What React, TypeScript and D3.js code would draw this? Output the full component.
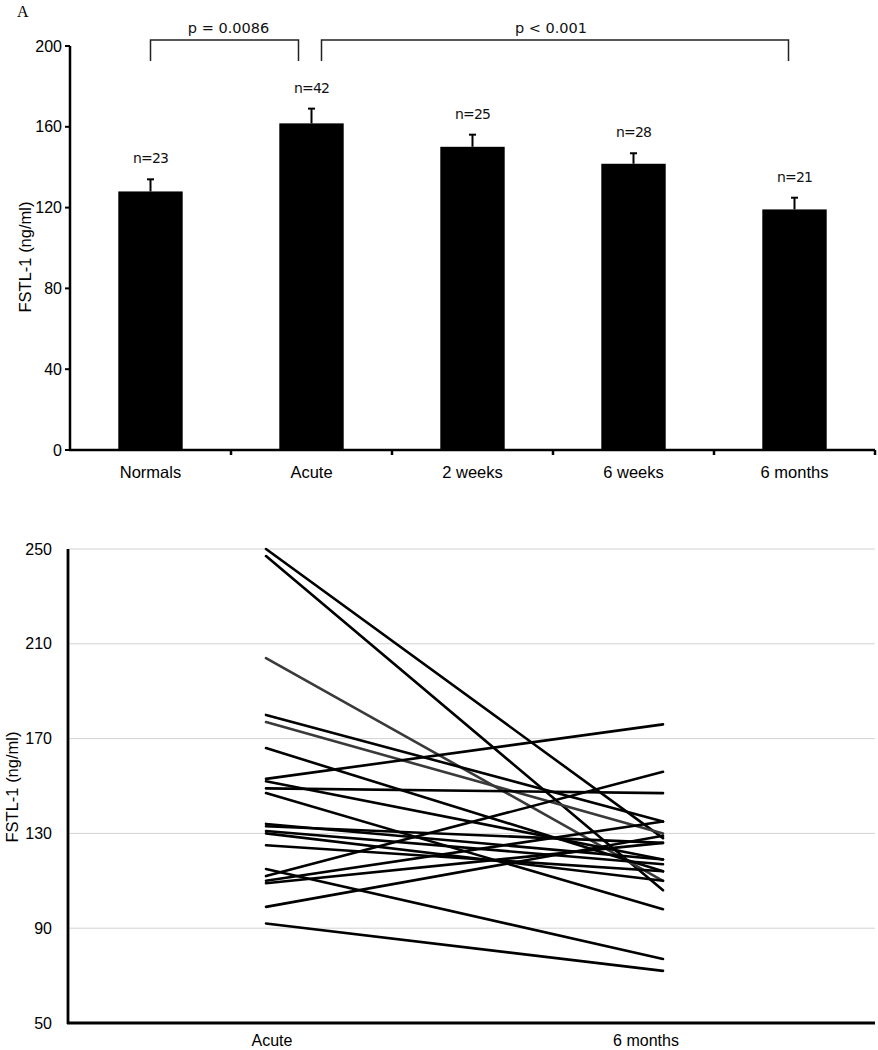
import React from "react";
import * as d3 from "d3";

// ---------- Panel A: bar chart data ----------
const categories = ["Normals", "Acute", "2 weeks", "6 weeks", "6 months"];
const means = [128, 161.7, 150.1, 141.7, 119.1];
const sems = [6, 7.3, 6, 5.2, 5.8];
const nLabels = ["n=23", "n=42", "n=25", "n=28", "n=21"];
const yTicksTop = [0, 40, 80, 120, 160, 200];
const comparisons = [
  { from: "Normals", to: "Acute", label: "p = 0.0086" },
  { from: "Acute", to: "6 months", label: "p < 0.001" },
];

// ---------- Panel B: paired lines data ----------
const pairedTimepoints = ["Acute", "6 months"];
const acuteValues = [250, 247, 204, 180, 177, 166, 153, 152, 149, 147, 134, 133, 131, 130, 125, 115, 112, 110, 109, 99, 92];
const sixMonthValues = [128, 106, 110, 135, 130, 114, 176, 119, 147, 98, 119, 126, 117, 110, 114, 77, 156, 135, 126, 129, 72];
const grayLines = [2, 4];
const yTicksBottom = [50, 90, 130, 170, 210, 250];

const ARIAL = "'Liberation Sans', Arial, sans-serif";
const DEJAVU = "'DejaVu Sans', Verdana, sans-serif";

export default function App() {
  // top chart scales
  const xTop = d3.scaleBand<string>().domain(categories).range([70, 875]).padding(0);
  const yTop = d3.scaleLinear().domain([0, 200]).range([450, 46]);
  const bw = xTop.bandwidth() * 0.4;
  const cx = (c: string) => (xTop(c) as number) + xTop.bandwidth() / 2;

  // bottom chart scales
  const xBot = d3.scalePoint<string>().domain(pairedTimepoints).range([266, 663]);
  const yBot = d3.scaleLinear().domain([50, 250]).range([1023, 549]);
  const labelShift = [6, -17];
  const line = d3
    .line<[string, number]>()
    .x((d) => xBot(d[0]) as number)
    .y((d) => yBot(d[1]));

  const bracketTop = 40;
  const bracketBottom = 61;

  return (
    <svg width={878} height={1050} style={{ position: "absolute", left: 0, top: 0, background: "#fff" }}>
      {/* Panel label */}
      <text x={17} y={17} fontFamily="'Liberation Serif', 'DejaVu Serif', serif" fontSize={16}>A</text>

      {/* Significance brackets */}
      {comparisons.map((c, i) => {
        const x1 = i === 0 ? cx(c.from) : cx(c.from) + 10;
        const x2 = i === 0 ? cx(c.to) - 13 : cx(c.to) - 6;
        return (
          <g key={c.label}>
            <path
              d={`M${x1},${bracketBottom}V${bracketTop}H${x2}V${bracketBottom}`}
              fill="none"
              stroke="#222"
              strokeWidth={1.5}
            />
            <text x={(x1 + x2) / 2 + (i === 0 ? 4 : -4)} y={33} textAnchor="middle" fontFamily={DEJAVU} fontSize={14.5} fill="#111">
              {c.label}
            </text>
          </g>
        );
      })}

      {/* Bars */}
      {categories.map((c, i) => {
        const x = cx(c);
        const top = yTop(means[i]);
        const errTop = yTop(means[i] + sems[i]);
        return (
          <g key={c}>
            <rect x={x - bw / 2} y={top} width={bw} height={yTop(0) - top} fill="#000" />
            <line x1={x} x2={x} y1={top} y2={errTop} stroke="#000" strokeWidth={2} />
            <line x1={x - 3.5} x2={x + 3.5} y1={errTop} y2={errTop} stroke="#000" strokeWidth={2} />
            <text x={x} y={errTop - 16} textAnchor="middle" fontFamily={DEJAVU} fontSize={14} letterSpacing={-0.9} fill="#111">
              {nLabels[i]}
            </text>
          </g>
        );
      })}

      {/* Top axes */}
      <line x1={70} x2={70} y1={yTop(200)} y2={yTop(0) + 1} stroke="#000" strokeWidth={2.5} />
      <line x1={69} x2={875} y1={yTop(0)} y2={yTop(0)} stroke="#000" strokeWidth={2.5} />
      {yTicksTop.map((t) => (
        <g key={t}>
          <line x1={65} x2={70} y1={yTop(t)} y2={yTop(t)} stroke="#000" strokeWidth={2} />
          <text x={62} y={yTop(t)} dy="0.35em" textAnchor="end" fontFamily={ARIAL} fontSize={16}>{t}</text>
        </g>
      ))}
      {categories.map((c) => (
        <g key={"xt" + c}>
          <line
            x1={(xTop(c) as number) + xTop.bandwidth()}
            x2={(xTop(c) as number) + xTop.bandwidth()}
            y1={yTop(0)}
            y2={yTop(0) + 5}
            stroke="#000"
            strokeWidth={2.5}
          />
          <text x={cx(c)} y={478} textAnchor="middle" fontFamily={ARIAL} fontSize={16.5}>{c}</text>
        </g>
      ))}
      <text
        transform={`translate(31,257) rotate(-90)`}
        textAnchor="middle"
        fontFamily={ARIAL}
        fontSize={16.5}
      >
        FSTL-1 (ng/ml)
      </text>

      {/* Bottom chart gridlines */}
      {yTicksBottom.slice(1).map((t) => (
        <line key={"g" + t} x1={68} x2={875} y1={yBot(t)} y2={yBot(t)} stroke="#d3d3d3" strokeWidth={1} />
      ))}
      {yTicksBottom.map((t) => (
        <text key={"yt" + t} x={52} y={yBot(t)} dy="0.35em" textAnchor="end" fontFamily={ARIAL} fontSize={16}>{t}</text>
      ))}

      {/* Paired lines */}
      {acuteValues.map((a, i) => (
        <path
          key={"l" + i}
          d={line([
            [pairedTimepoints[0], a],
            [pairedTimepoints[1], sixMonthValues[i]],
          ]) as string}
          fill="none"
          stroke={grayLines.includes(i) ? "#3a3a3a" : "#000"}
          strokeWidth={2.6}
          strokeLinecap="round"
        />
      ))}

      {/* Bottom axes */}
      <line x1={68} x2={68} y1={yBot(250)} y2={yBot(50) + 1} stroke="#000" strokeWidth={2.8} />
      <line x1={67} x2={875} y1={yBot(50)} y2={yBot(50)} stroke="#000" strokeWidth={2.8} />
      {pairedTimepoints.map((p, i) => (
        <text key={"bx" + p} x={(xBot(p) as number) + labelShift[i]} y={1046} textAnchor="middle" fontFamily={ARIAL} fontSize={16}>
          {p}
        </text>
      ))}
      <text transform={`translate(18,787) rotate(-90)`} textAnchor="middle" fontFamily={ARIAL} fontSize={16.5}>
        FSTL-1 (ng/ml)
      </text>
    </svg>
  );
}
